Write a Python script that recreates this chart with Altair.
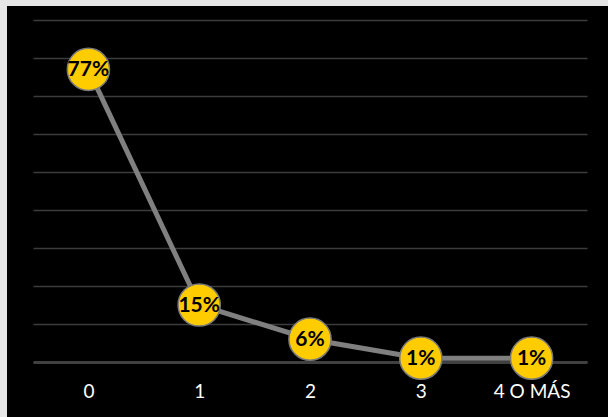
import altair as alt
import pandas as pd

categories = ["0", "1", "2", "3", "4 O MÁS"]
values = [77, 15, 6, 1, 1]
labels = ["77%", "15%", "6%", "1%", "1%"]
grid_values = [0, 10, 20, 30, 40, 50, 60, 70, 80, 90]

df = pd.DataFrame({"cat": categories, "val": values, "lab": labels})

W, H = 554, 342
PL, PT, PR, PB = 33, 20, 21, 55

xenc = alt.X("cat:N", sort=categories,
             scale=alt.Scale(type="point", padding=0.5),
             axis=alt.Axis(title=None, labelAngle=0, labelColor="white",
                           labelFont="Lato", labelFontSize=19, labelPadding=20,
                           ticks=False, domainColor="#404040", domainWidth=3,
                           grid=False))
yenc = alt.Y("val:Q", scale=alt.Scale(domain=[0, 90], nice=False),
             axis=alt.Axis(title=None, labels=False, ticks=False, domain=False,
                           values=grid_values, labelOverlap=False,
                           gridColor="#3c3c3c", gridWidth=1.5))

one = alt.Data(values=[{"a": 1}])
strip_left = alt.Chart(one).mark_rect(color="#e6e6e6").encode(
    x=alt.value(-PL), x2=alt.value(-(PL - 7)),
    y=alt.value(-PT), y2=alt.value(H + PB))
strip_top = alt.Chart(one).mark_rect(color="#e6e6e6").encode(
    x=alt.value(-PL), x2=alt.value(W + PR),
    y=alt.value(-PT), y2=alt.value(-(PT - 6)))

base = alt.Chart(df).encode(x=xenc, y=yenc)
line = base.mark_line(color="#808080", strokeWidth=5)
pts = base.mark_point(filled=True, fill="#FFCC00", stroke="#7a7a7a",
                      strokeWidth=1.5, size=1780, opacity=1, shape="circle")
txt = base.mark_text(font="Lato", fontWeight="bold", fontSize=21, color="black",
                     baseline="middle", dy=1).encode(text="lab:N")

chart = alt.layer(line, pts, txt, strip_left, strip_top).properties(
    width=W, height=H, background="black",
    padding={"left": PL, "top": PT, "right": PR, "bottom": PB},
    autosize=alt.AutoSizeParams(type="none"),
).configure_view(stroke=None, fill=None)

chart.save("out.html", embed_options={"renderer": "svg", "actions": False})
